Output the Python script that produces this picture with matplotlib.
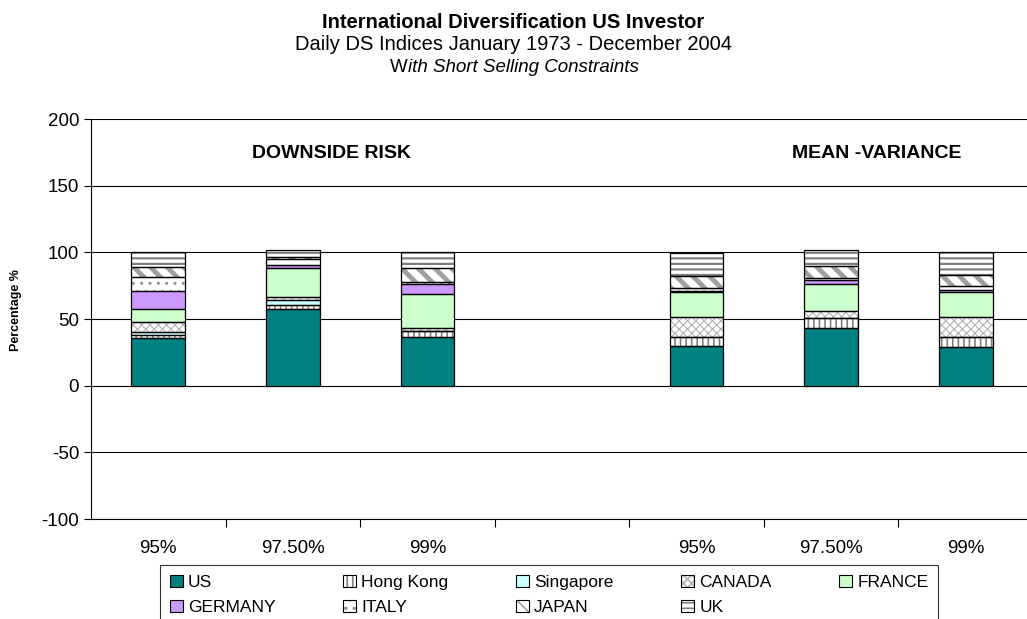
import numpy as np
import matplotlib
matplotlib.use("Agg")
from matplotlib import pyplot as plt
from matplotlib.patches import Patch

plt.rcParams['font.family'] = ['Liberation Sans', 'DejaVu Sans']
plt.rcParams['axes.unicode_minus'] = False
plt.rcParams['hatch.linewidth'] = 1.2

# x categories (4th slot is an empty gap between the two panels)
categories = ['95%', '97.50%', '99%', '', '95%', '97.50%', '99%']
nan = np.nan

# portfolio weights in %, bottom to top
US        = [35.7, 57.4, 36.5, nan, 29.4, 43.2, 29.0]
HONG_KONG = [2.0, 3.0, 4.2, nan, 7.0, 7.5, 7.5]
SINGAPORE = [2.3, 4.0, 0.5, nan, 0.0, 0.0, 0.0]
CANADA    = [7.4, 2.3, 2.0, nan, 15.4, 5.5, 15.0]
FRANCE    = [10.0, 21.2, 25.7, nan, 18.3, 20.2, 18.4]
GERMANY   = [13.6, 2.5, 7.3, nan, 1.0, 2.5, 2.0]
ITALY     = [10.7, 4.5, 1.7, nan, 2.5, 2.0, 2.5]
JAPAN     = [7.5, 1.5, 10.0, nan, 9.0, 9.2, 8.7]
UK        = [11.0, 5.3, 12.0, nan, 17.0, 11.3, 16.8]

# name, values, fill, hatch, hatch colour, hatch width
series = [
    ('US', US, '#008080', '', None, 1.0),
    ('Hong Kong', HONG_KONG, 'white', '|||', '#808080', 1.2),
    ('Singapore', SINGAPORE, '#CCFFFF', '', None, 1.0),
    ('CANADA', CANADA, 'white', 'xxxx', '#B4B4B4', 0.8),
    ('FRANCE', FRANCE, '#CCFFCC', '', None, 1.0),
    ('GERMANY', GERMANY, '#CC99FF', '', None, 1.0),
    ('ITALY', ITALY, 'white', '..', '#909090', 1.0),
    ('JAPAN', JAPAN, 'white', '\\\\', '#A0A0A0', 3.5),
    ('UK', UK, 'white', '---', '#808080', 1.6),
]

fig = plt.figure(figsize=(10.27, 6.19), dpi=100)
ax = fig.add_axes([91 / 1027, 100 / 619, 942 / 1027, 400 / 619])

x = np.arange(len(categories))
bottom = np.zeros(len(categories))
handles = {}
for name, vals, color, hatch, hcol, hlw in series:
    vals = np.array(vals, dtype=float)
    bars = ax.bar(x, vals, 0.4, bottom=bottom, color=color, hatch=hatch,
                  edgecolor=hcol if hatch else color, linewidth=0, zorder=3)
    for b in bars:
        if hatch and hasattr(b, 'set_hatch_linewidth'):
            b.set_hatch_linewidth(hlw)
    ax.bar(x, vals, 0.4, bottom=bottom, fill=False, edgecolor='black',
           linewidth=0.9, zorder=4)
    h1 = Patch(facecolor=color, hatch=hatch, edgecolor=hcol if hatch else color, linewidth=0)
    if hatch and hasattr(h1, 'set_hatch_linewidth'):
        h1.set_hatch_linewidth(min(hlw, 1.5))
    h2 = Patch(fill=False, edgecolor='black', linewidth=0.8)
    handles[name] = (h1, h2)
    bottom = bottom + vals

ax.set_xlim(-0.5, len(categories) - 0.5)
ax.set_ylim(-100, 200)
ax.set_yticks(np.arange(-100, 201, 50))
ax.yaxis.grid(True, color='black', linewidth=0.8, zorder=0)
ax.tick_params(axis='y', labelsize=13.5, length=5, width=0.8, direction='out')

ax.set_xticks(np.arange(0.5, len(categories) - 1, 1.0))
ax.set_xticklabels([])
ax.set_xticks(x, minor=True)
ax.set_xticklabels(categories, minor=True)
ax.tick_params(axis='x', which='major', length=6, width=0.8, direction='out')
ax.tick_params(axis='x', which='minor', length=0, labelsize=13.5, pad=15)

for s in ['top', 'right']:
    ax.spines[s].set_visible(False)
ax.spines['left'].set_linewidth(0.8)
ax.spines['bottom'].set_linewidth(0.8)

ax.text(1.29, 173.8, 'DOWNSIDE RISK', ha='center', va='center',
        fontsize=14, fontweight='bold')
ax.text(5.34, 173.8, 'MEAN -VARIANCE', ha='center', va='center',
        fontsize=14, fontweight='bold')

fig.text(16 / 1027, 1 - 310 / 619, 'Percentage %', rotation=90,
         ha='center', va='center', fontsize=9, fontweight='bold')

fig.text(0.5, 1 - 22 / 619, 'International Diversification US Investor',
         ha='center', va='center', fontsize=14.5, fontweight='bold')
fig.text(0.5, 1 - 45 / 619, 'Daily DS Indices January 1973 - December 2004',
         ha='center', va='center', fontsize=14.5)
fig.text(408 / 1027, 1 - 67 / 619, 'W', ha='right', va='center', fontsize=13.5)
fig.text(408 / 1027, 1 - 67 / 619, 'ith Short Selling Constraints',
         ha='left', va='center', fontsize=13.5, style='italic')

# row-wise legend order: matplotlib fills columns first
order = ['US', 'GERMANY', 'Hong Kong', 'ITALY', 'Singapore', 'JAPAN',
         'CANADA', 'UK', 'FRANCE']
leg = fig.legend([handles[n] for n in order], order, ncol=5,
                 loc='upper left',
                 bbox_to_anchor=(160 / 1027, 1 - 565 / 619, 778 / 1027, 0),
                 mode='expand', borderaxespad=0, fontsize=12.5, frameon=True,
                 fancybox=False, edgecolor='black', handlelength=0.75,
                 handleheight=0.75, handletextpad=0.3, columnspacing=1.0,
                 labelspacing=0.55, borderpad=0.55)
leg.get_frame().set_linewidth(0.8)

fig.savefig('out.png', dpi=100)
